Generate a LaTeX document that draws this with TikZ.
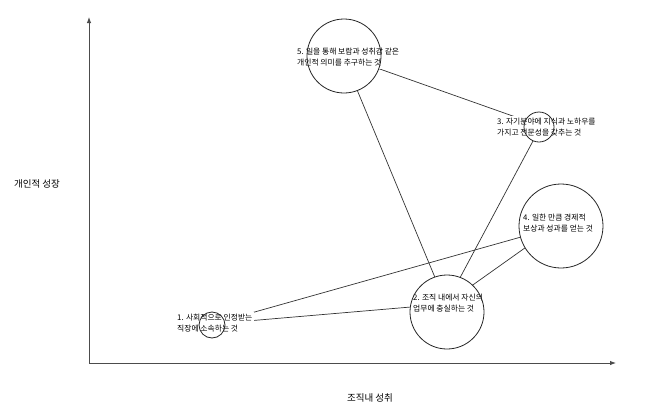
\documentclass[tikz,border=0pt]{standalone}
\usepackage{fontspec}
\setmainfont{Noto Sans CJK KR}
\usetikzlibrary{arrows.meta}
\begin{document}
\begin{tikzpicture}[x=1pt,y=-1pt,
  axis/.style={draw=black!70,line width=0.9pt,-{Latex[length=6pt,width=4.5pt]}},
  link/.style={draw=black!80,line width=0.7pt},
  bubblefill/.style={circle,fill=white,inner sep=0pt},
  bubble/.style={circle,draw=black!85,line width=0.8pt,inner sep=0pt},
  caption/.style={anchor=west,align=left,fill=white,inner sep=2pt,text=black,
    font=\fontsize{7.8}{11}\selectfont},
  axislabel/.style={text=black,font=\fontsize{9.5}{12}\selectfont}]
\useasboundingbox (0,0) rectangle (651,413);

% axes
\coordinate (origin) at (89,363);
\coordinate (ytip) at (89,17);
\coordinate (xtip) at (616,363);
\draw[axis] (origin) -- (ytip);
\draw[axis] (origin) -- (xtip);
\node[axislabel] (ylab) at (37,184) {개인적 성장};
\node[axislabel] (xlab) at (370,398) {조직내 성취};

% data points
\coordinate (p1) at (212,324);
\coordinate (p2) at (446,304);
\coordinate (p3) at (541,126);
\coordinate (p4) at (553,228);
\coordinate (p5) at (343,56);

% connections
\draw[link] (p5) -- (p2);
\draw[link] (p5) -- (p3);
\draw[link] (p3) -- (p2);
\draw[link] (p4) -- (p2);
\draw[link] (p1) -- (p4);
\draw[link] (p1) -- (p2);

% bubble interiors
\node[bubblefill,minimum size=26pt] (f1) at (212,325) {};
\node[bubblefill,minimum size=74pt] (f2) at (447,312) {};
\node[bubblefill,minimum size=30pt] (f3) at (539,127) {};
\node[bubblefill,minimum size=84pt] (f4) at (561,226) {};
\node[bubblefill,minimum size=74pt] (f5) at (344,56) {};

% captions
\node[caption] (t1) at (175,323.5) {1. 사회적으로 인정받는\\직장에 소속하는 것};
\node[caption] (t2) at (411,303.5) {2. 조직 내에서 자신의\\업무에 충실하는 것};
\node[caption] (t3) at (495,127) {3. 자기분야에 지식과 노하우를\\가지고 전문성을 갖추는 것};
\node[caption] (t4) at (521,223.5) {4. 일한 만큼 경제적\\보상과 성과를 얻는 것};
\node[caption] (t5) at (295,57.5) {5. 일을 통해 보람과 성취감 같은\\개인적 의미를 추구하는 것};

% bubble outlines
\node[bubble,minimum size=26pt] (c1) at (f1) {};
\node[bubble,minimum size=74pt] (c2) at (f2) {};
\node[bubble,minimum size=30pt] (c3) at (f3) {};
\node[bubble,minimum size=84pt] (c4) at (f4) {};
\node[bubble,minimum size=74pt] (c5) at (f5) {};
\end{tikzpicture}
\end{document}
